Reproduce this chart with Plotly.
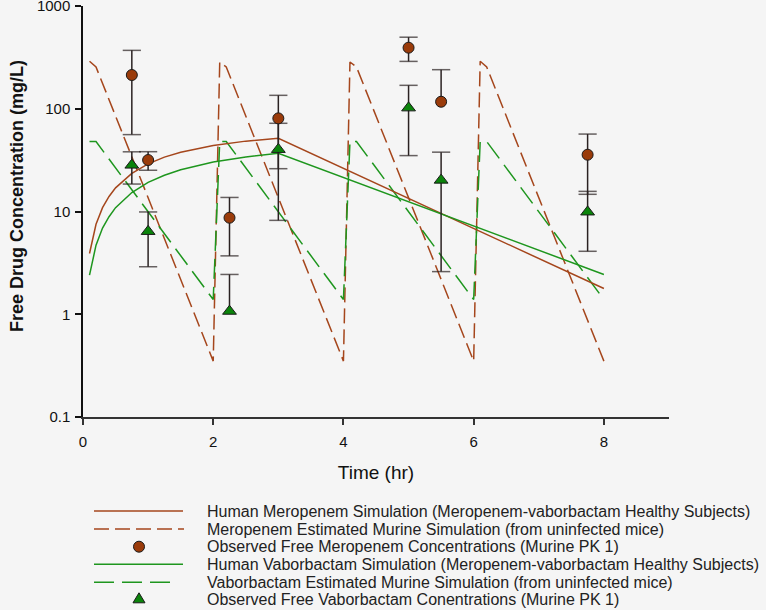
import plotly.graph_objects as go

# --- observed murine PK (mean, SD) ---
obs_time = [0.75, 1.0, 2.25, 3.0, 5.0, 5.5, 7.75]
mero_obs = [213, 31.7, 8.7, 80.6, 393, 117, 35.7]
mero_sd = [157, 6.5, 5.0, 54.5, 104, 123, 21]
vabor_obs = [28.3, 6.4, 1.07, 40.2, 102, 20.2, 9.9]
vabor_sd = [9.8, 3.5, 1.37, 32, 67, 17.6, 5.8]

# --- human simulation (3 h infusion) ---
human_time = [0.1, 0.2, 0.3, 0.4, 0.5, 0.75, 1.0, 1.25, 1.5, 2.0, 2.5, 3.0, 8.0]
mero_human = [3.9, 7.5, 10.9, 14.0, 17.0, 23.5, 29.1, 33.8, 37.7, 43.9, 48.4, 51.5, 1.78]
vabor_human = [2.4, 4.7, 6.9, 8.9, 10.9, 15.3, 19.2, 22.5, 25.5, 30.3, 34.0, 36.8, 2.44]

# --- murine estimated simulation (q2h) ---
murine_time = [0.1, 0.2, 2.0, 2.1, 2.2, 4.0, 4.1, 4.2, 6.0, 6.1, 6.2, 8.0]
mero_murine = [290, 255, 0.35, 285, 255, 0.35, 285, 255, 0.35, 290, 255, 0.35]
vabor_murine = [48, 48, 1.39, 48, 48, 1.39, 48, 48, 1.39, 48, 48, 1.39]

legend_labels = [
    "Human Meropenem Simulation (Meropenem-vaborbactam Healthy Subjects)",
    "Meropenem Estimated Murine Simulation (from uninfected mice)",
    "Observed Free Meropenem Concentrations (Murine PK 1)",
    "Human Vaborbactam Simulation (Meropenem-vaborbactam Healthy Subjects)",
    "Vaborbactam Estimated Murine Simulation (from uninfected mice)",
    "Observed Free Vaborbactam Conentrations (Murine PK 1)",
]

BROWN = "#A5461C"
BROWN_FILL = "#9A3B0A"
GREEN = "#1E961E"
GREEN_FILL = "#0B840B"
EDGE = "#1a1a1a"
ERR = "#2a2222"
BG = "#F5F5F5"
FONT = "Liberation Sans, Arial, sans-serif"
MERO_DASH = "15px,6px"
VABOR_DASH = "20px,8px"

# plot area in pixels (figure is 766 x 610)
L, R, T, B = 83, 669, 6, 417
W, H = 766, 610


def px_x(px):
    return (px - L) / (R - L)


def px_y(py):
    return (B - py) / (B - T)


def error_trace(t, y, sd):
    """SD bars as line segments with flat caps; lower half dropped when <= 0."""
    xs, ys, sizes = [], [], []
    for ti, yi, si in zip(t, y, sd):
        lo = yi - si
        if lo > 0:
            xs += [ti, ti, None]
            ys += [lo, yi + si, None]
            sizes += [13, 13, 0]
        else:
            xs += [ti, ti, None]
            ys += [yi, yi + si, None]
            sizes += [0, 13, 0]
    return go.Scatter(
        x=xs, y=ys, mode="lines+markers", connectgaps=False,
        line=dict(color=ERR, width=1.5),
        marker=dict(symbol="line-ew", size=sizes, color=ERR,
                    line=dict(color=ERR, width=1.5)),
        showlegend=False, hoverinfo="skip",
    )


fig = go.Figure()

fig.add_trace(go.Scatter(x=murine_time, y=mero_murine, mode="lines",
                         line=dict(color=BROWN, width=1.5, dash=MERO_DASH),
                         name=legend_labels[1], showlegend=False))
fig.add_trace(go.Scatter(x=murine_time, y=vabor_murine, mode="lines",
                         line=dict(color=GREEN, width=1.5, dash=VABOR_DASH),
                         name=legend_labels[4], showlegend=False))
fig.add_trace(go.Scatter(x=human_time, y=mero_human, mode="lines",
                         line=dict(color=BROWN, width=1.5),
                         name=legend_labels[0], showlegend=False))
fig.add_trace(go.Scatter(x=human_time, y=vabor_human, mode="lines",
                         line=dict(color=GREEN, width=1.5),
                         name=legend_labels[3], showlegend=False))

fig.add_trace(error_trace(obs_time, mero_obs, mero_sd))
fig.add_trace(error_trace(obs_time, vabor_obs, vabor_sd))

fig.add_trace(go.Scatter(x=obs_time, y=mero_obs, mode="markers",
                         marker=dict(symbol="circle", size=11, color=BROWN_FILL,
                                     line=dict(color=EDGE, width=1)),
                         name=legend_labels[2], showlegend=False))
fig.add_trace(go.Scatter(x=obs_time, y=vabor_obs, mode="markers",
                         marker=dict(symbol="triangle-up", size=12, color=GREEN_FILL,
                                     line=dict(color=EDGE, width=1)),
                         name=legend_labels[5], showlegend=False))

# --- hand-made legend below the axes (long sample lines like the original) ---
rows_py = [511, 529, 546.7, 564.3, 582.3, 599.3]
key_x0, key_xc, text_x = px_x(94), px_x(139), px_x(205)
shapes = []
samples = [
    ("line", BROWN, "solid", px_x(183)),
    ("line", BROWN, MERO_DASH, px_x(184)),
    ("circle", BROWN_FILL, None, None),
    ("line", GREEN, "solid", px_x(183)),
    ("line", GREEN, VABOR_DASH, px_x(177)),
    ("triangle", GREEN_FILL, None, None),
]
for (kind, col, dash, x1), py in zip(samples, rows_py):
    yy = px_y(py)
    if kind == "line":
        shapes.append(dict(type="line", xref="paper", yref="paper",
                           x0=key_x0, x1=x1, y0=yy, y1=yy,
                           line=dict(color=col, width=1.5, dash=dash)))
    elif kind == "circle":
        shapes.append(dict(type="circle", xref="paper", yref="paper",
                           xsizemode="pixel", ysizemode="pixel",
                           xanchor=key_xc, yanchor=yy,
                           x0=-5.5, x1=5.5, y0=-5.5, y1=5.5,
                           fillcolor=col, line=dict(color=EDGE, width=1)))
    else:
        shapes.append(dict(type="path", xref="paper", yref="paper",
                           xsizemode="pixel", ysizemode="pixel",
                           xanchor=key_xc, yanchor=yy,
                           path="M-6,-3.5 L6,-3.5 L0,6.5 Z",
                           fillcolor=col, line=dict(color=EDGE, width=1)))

annotations = [
    dict(text=lab, x=text_x, y=px_y(py), xref="paper", yref="paper",
         xanchor="left", yanchor="middle", showarrow=False,
         font=dict(family=FONT, size=16, color="#222"))
    for lab, py in zip(legend_labels, rows_py)
]
annotations.append(dict(text="<b>Free Drug Concentration (mg/L)</b>",
                        x=px_x(17), y=px_y(196), xref="paper", yref="paper",
                        xanchor="center", yanchor="middle",
                        textangle=-90, showarrow=False,
                        font=dict(family=FONT, size=18, color="#111")))

fig.update_layout(
    width=W, height=H,
    margin=dict(l=L, r=W - R, t=T, b=H - B, autoexpand=False),
    paper_bgcolor=BG, plot_bgcolor=BG,
    font=dict(family=FONT, color="#111"),
    shapes=shapes, annotations=annotations,
    showlegend=False,
)
fig.update_xaxes(
    range=[0, 9], tickvals=[0, 2, 4, 6, 8],
    showline=True, linecolor="#333", linewidth=1.5,
    ticks="outside", ticklen=6, tickwidth=1.5, tickcolor="#333",
    showgrid=False, zeroline=False,
    tickfont=dict(size=15), ticklabelstandoff=4,
    title=dict(text="Time (hr)", font=dict(size=19), standoff=17),
)
fig.update_yaxes(
    type="log", range=[-1, 3],
    tickvals=[0.1, 1, 10, 100, 1000], ticktext=["0.1", "1", "10", "100", "1000"],
    showline=True, linecolor="#111", linewidth=1.5,
    ticks="outside", ticklen=6, tickwidth=1.5, tickcolor="#111",
    showgrid=False, zeroline=False, ticklabeloverflow="allow",
    tickfont=dict(size=15), ticklabelstandoff=2,
)

fig.write_html("out.html", config={"displayModeBar": False},
               post_script="document.body.style.margin='0';")
